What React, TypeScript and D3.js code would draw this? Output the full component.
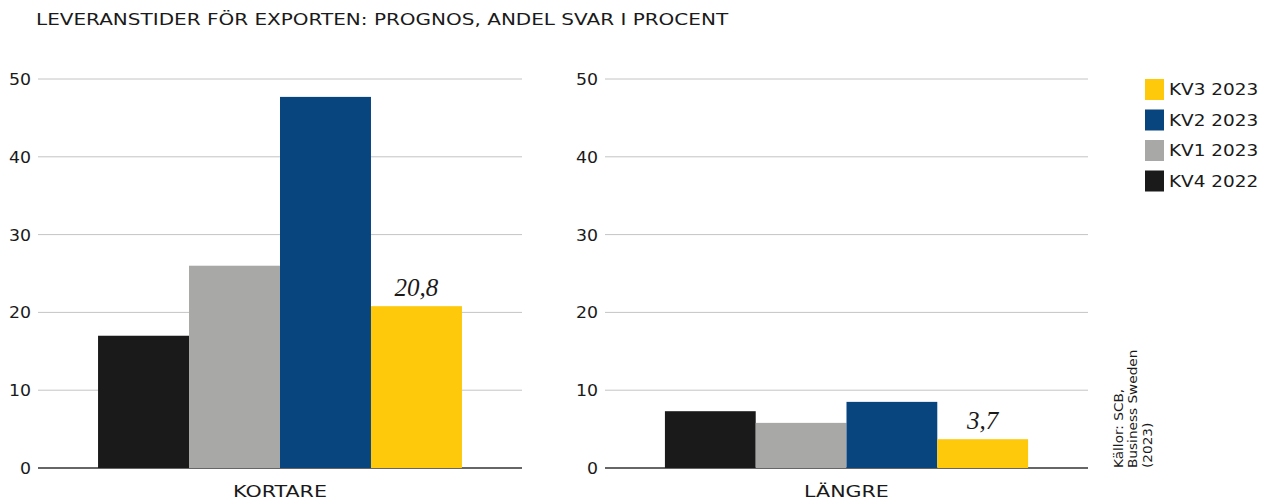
import * as d3 from 'd3'
import React from 'react'

const categories = ['KORTARE', 'LÄNGRE']
const seriesNames = ['KV4 2022', 'KV1 2023', 'KV2 2023', 'KV3 2023']
const kv4_2022 = [17.0, 7.3]
const kv1_2023 = [26.0, 5.8]
const kv2_2023 = [47.7, 8.5]
const kv3_2023 = [20.8, 3.7]
const yTicks = [0, 10, 20, 30, 40, 50]
const legendOrder = ['KV3 2023', 'KV2 2023', 'KV1 2023', 'KV4 2022']
const title = 'LEVERANSTIDER FÖR EXPORTEN: PROGNOS, ANDEL SVAR I PROCENT'
const sourceLines = ['Källor: SCB,', 'Business Sweden', '(2023)']

const values = [kv4_2022, kv1_2023, kv2_2023, kv3_2023]
const colors = {
  'KV4 2022': '#1a1a1a',
  'KV1 2023': '#a8a8a7',
  'KV2 2023': '#08457f',
  'KV3 2023': '#fec90a',
}

const FONT = '"DejaVu Sans", Inter, sans-serif'
const W = 1267
const H = 500

const panels = [
  { x0: 38, x1: 522 },
  { x0: 605, x1: 1088 },
]

const y = d3.scaleLinear().domain([0, 50]).range([468, 79])
const fmt = (v) => d3.format('.1f')(v).replace('.', ',')

// the original font is a wide geometric sans; stretch DejaVu a bit horizontally
const Wide = ({ x, y, sx, children, ...rest }) => (
  <g transform={`translate(${x} ${y}) scale(${sx} 1)`}>
    <text x={0} y={0} fill="#1a1a1a" {...rest}>
      {children}
    </text>
  </g>
)

const Panel = ({ index, x0, x1 }) => {
  const x = d3.scaleBand().domain(seriesNames).range([x0, x1]).paddingInner(0).paddingOuter(0.66)
  return (
    <g>
      {yTicks.map((t) => (
        <g key={t}>
          <line
            x1={x0}
            x2={x1}
            y1={y(t)}
            y2={y(t)}
            stroke={t === 0 ? '#333' : '#c4c4c4'}
            strokeWidth={t === 0 ? 1.5 : 1}
          />
          <Wide x={x0 - 7} y={y(t)} sx={1.05} dy="0.36em" textAnchor="end" fontSize="16.5">
            {t}
          </Wide>
        </g>
      ))}
      {seriesNames.map((s, i) => (
        <rect
          key={s}
          x={x(s)}
          y={y(values[i][index])}
          width={x.bandwidth()}
          height={y(0) - y(values[i][index])}
          fill={colors[s]}
        />
      ))}
      <text
        x={x('KV3 2023') + x.bandwidth() / 2}
        y={y(kv3_2023[index]) - 10}
        textAnchor="middle"
        fontFamily='"Liberation Serif", serif'
        fontStyle="italic"
        fontSize="25"
        fill="#1a1a1a"
      >
        {fmt(kv3_2023[index])}
      </text>
      <Wide x={(x0 + x1) / 2} y={497} sx={1.25} textAnchor="middle" fontSize="16.5">
        {categories[index]}
      </Wide>
    </g>
  )
}

export default function App() {
  return (
    <svg
      width={W}
      height={H}
      style={{ position: 'absolute', left: 0, top: 0, background: '#fff' }}
      fontFamily={FONT}
    >
      <Wide x={36} y={25} sx={1.25} fontSize="16">
        {title}
      </Wide>
      {panels.map((p, i) => (
        <Panel key={i} index={i} x0={p.x0} x1={p.x1} />
      ))}
      {legendOrder.map((s, i) => (
        <g key={s} transform={`translate(1145 ${79 + i * 30.5})`}>
          <rect width={19} height={21} fill={colors[s]} />
          <Wide x={24} y={10.5} sx={1.12} dy="0.36em" fontSize="16.5">
            {s}
          </Wide>
        </g>
      ))}
      <g transform="translate(1123 468) rotate(-90) scale(1.05 1)">
        <text x={0} y={0} fontSize="13" fill="#1a1a1a">
          {sourceLines.map((l, i) => (
            <tspan key={i} x={0} dy={i === 0 ? 0 : 14.5}>
              {l}
            </tspan>
          ))}
        </text>
      </g>
    </svg>
  )
}
